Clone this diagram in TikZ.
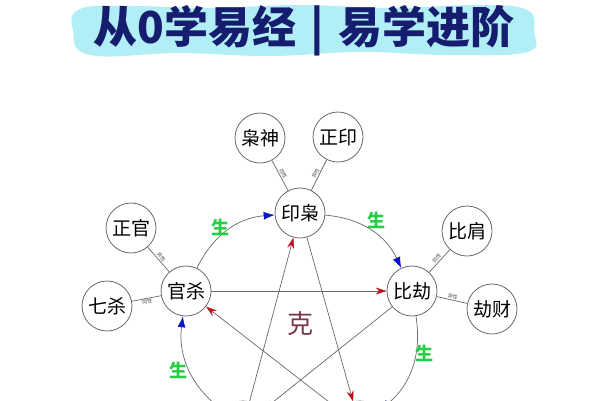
\documentclass[tikz,border=0pt]{standalone}
\usepackage{fontspec}
\setmainfont{Noto Sans CJK SC}
\usepackage{xcolor}
\usepackage{tikz}
\usetikzlibrary{arrows.meta}
\definecolor {navy}       {RGB}{ 22,  28, 110}
\definecolor {titlebg}    {RGB}{178, 238, 246}
\definecolor {ringgray}   {RGB}{105, 105, 105}
\definecolor {shenggreen} {RGB}{ 40, 205,  70}
\definecolor {shengblue}  {RGB}{ 10,  25, 200}
\definecolor {kered}      {RGB}{185,  20,  30}
\definecolor {kebrown}    {RGB}{120,  55,  75}

\begin{document}
\begin{tikzpicture}[x=1pt, y=-1pt,
	gong/.style={circle, draw=ringgray, thick, fill=white, minimum size=50pt, inner sep=0pt, font=\fontsize{19}{19}\selectfont},
	spoke/.style={draw=ringgray, line width=0.7pt},
	sheng/.style={draw=ringgray, line width=0.7pt, -{Latex[length=11pt, width=8pt, color=shengblue]}},
	ke/.style={draw=ringgray, line width=0.7pt, -{Stealth[length=11pt, width=7pt, color=kered]}},
	shenglabel/.style={text=shenggreen, font=\fontsize{18}{18}\selectfont\bfseries},
	xinglabel/.style={midway, sloped, font=\fontsize{5}{5}\selectfont, text=black!70, inner sep=1pt}]

	\clip (0, 0) rectangle (600, 400);
	\fill[white] (0, 0) rectangle (600, 400);

	% Draw title with its cyan background
	\fill[titlebg] plot[smooth cycle, tension=0.7] coordinates {(73, 30) (80, 9) (130, 6) (210, 8) (300, 5) (390, 8) (480, 5) (527, 10) (534, 31) (527, 52) (450, 55) (360, 52) (270, 56) (180, 53) (90, 55)};
	\node[text=navy, font=\fontsize{44}{44}\selectfont\bfseries] (title) at (304, 31) {从0学易经\hspace{14pt}|\hspace{14pt}易学进阶};

	% Draw the five circles of the ring
	\node[gong] (yinxiao) at (300, 213) {印枭};
	\node[gong] (guansha) at (186, 291) {官杀};
	\node[gong] (bijie)   at (412, 291) {比劫};
	\node[gong] (botleft)  at (243, 426) {};
	\node[gong] (botright) at (360, 426) {};

	% Draw the outer circles
	\node[gong] (xiaoshen)  at (260, 138) {枭神};
	\node[gong] (zhengyin)  at (338, 137) {正印};
	\node[gong] (zhengguan) at (131, 228) {正官};
	\node[gong] (qisha)     at (107, 306) {七杀};
	\node[gong] (bijian)    at (467, 231) {比肩};
	\node[gong] (jiecai)    at (492, 309) {劫财};

	% Draw spokes
	% for 印枭
	\draw[spoke] (yinxiao) -- (xiaoshen) node[xinglabel, above] {同性};
	\draw[spoke] (yinxiao) -- (zhengyin) node[xinglabel, above] {异性};
	% for 官杀
	\draw[spoke] (guansha) -- (zhengguan) node[xinglabel, above] {异性};
	\draw[spoke] (guansha) -- (qisha) node[xinglabel, below] {同性};
	% for 比劫
	\draw[spoke] (bijie) -- (bijian) node[xinglabel, above] {同性};
	\draw[spoke] (bijie) -- (jiecai) node[xinglabel, above] {异性};

	% Draw generating arcs
	\draw[sheng] (guansha) to[bend left=30] (yinxiao);
	\draw[sheng] (yinxiao) to[bend left=30] (bijie);
	\draw[sheng] (bijie) to[bend left=30] (botright);
	\draw[sheng] (botleft) to[bend left=30] (guansha);

	\node[shenglabel] (sheng1) at (220, 227) {生};
	\node[shenglabel] (sheng2) at (376, 220) {生};
	\node[shenglabel] (sheng3) at (424, 353) {生};
	\node[shenglabel] (sheng4) at (178, 370) {生};

	% Draw the star of control
	\draw[ke] (yinxiao) -- (botright);
	\draw[ke] (botright) -- (guansha);
	\draw[ke] (guansha) -- (bijie);
	\draw[ke] (bijie) -- (botleft);
	\draw[ke] (botleft) -- (yinxiao);

	\node[text=kebrown, font=\fontsize{26}{26}\selectfont] (ke) at (300, 324) {克};

\end{tikzpicture}
\end{document}
